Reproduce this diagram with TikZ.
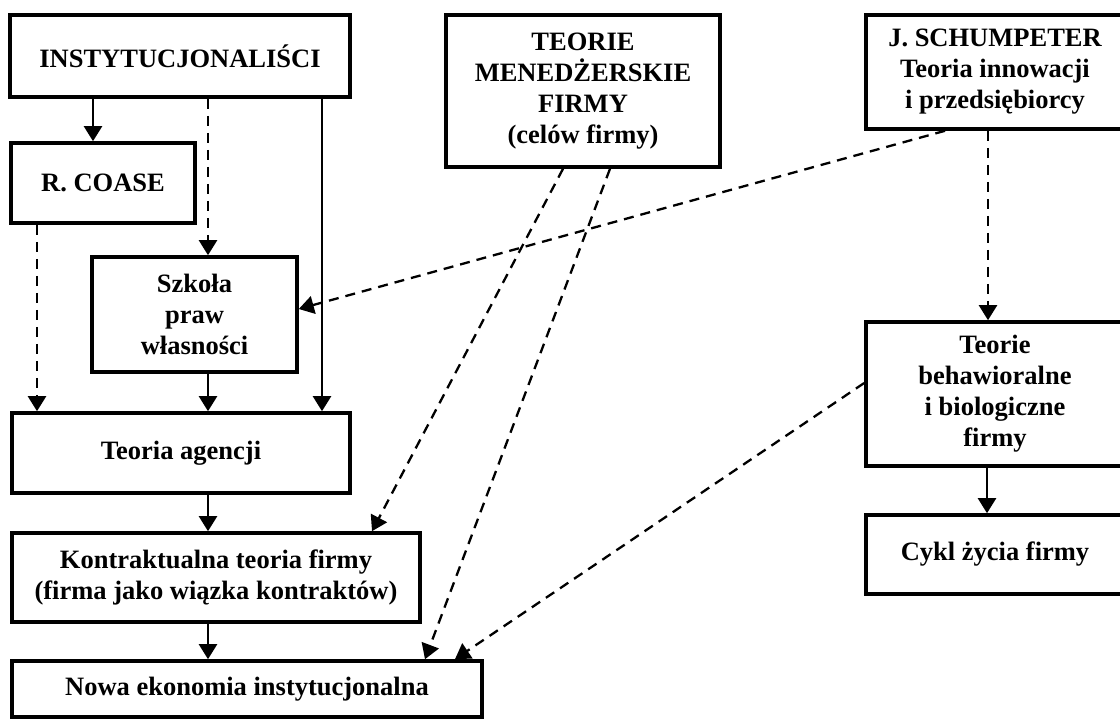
\documentclass[tikz,border=0pt]{standalone}
\usepackage{fontspec}
\setmainfont{Liberation Serif}
\usetikzlibrary{arrows.meta}
\begin{document}
\begin{tikzpicture}[x=1pt,y=-1pt,
  box/.style={draw, line width=3.6pt, align=center, inner sep=0pt,
    font=\fontsize{26.5pt}{31pt}\selectfont\bfseries},
  conn/.style={line width=2.3pt, -{Triangle[length=15pt,width=18pt]}},
  dconn/.style={conn, dash pattern=on 10pt off 7pt}]
\useasboundingbox (0,0) rectangle (1120,720);

% left column: institutional economics
\node[box, minimum width=340pt, minimum height=82pt] (inst) at (180,56) {INSTYTUCJONALIŚCI};
\node[box, minimum width=184pt, minimum height=80pt] (coase) at (103,183) {R. COASE};
\node[box, minimum width=205pt, minimum height=115pt] (szkola) at (194.5,314.5) {Szkoła\\praw\\własności};
\node[box, minimum width=338pt, minimum height=80pt] (agencja) at (181,453) {Teoria agencji};
\node[box, minimum width=408pt, minimum height=89pt] (kontr) at (216,577.5) {Kontraktualna teoria firmy\\(firma jako wiązka kontraktów)};
\node[box, minimum width=470pt, minimum height=56pt] (nowa) at (247,689) {Nowa ekonomia instytucjonalna};

% middle and right columns
\node[box, minimum width=274pt, minimum height=152pt] (teorie) at (583,91) {TEORIE\\MENEDŻERSKIE\\FIRMY\\(celów firmy)};
\node[box, minimum width=258pt, minimum height=114pt] (schump) at (995,72) {J. SCHUMPETER\\Teoria innowacji\\i przedsiębiorcy};
\node[box, minimum width=258pt, minimum height=144pt] (behaw) at (995,394) {Teorie\\behawioralne\\i biologiczne\\firmy};
\node[box, minimum width=258pt, minimum height=79pt] (cykl) at (995,554.5) {Cykl życia firmy};

% solid links
\draw[conn] (inst.south -| 93,0) -- (coase.north -| 93,0);
\draw[conn] (inst.south -| 322,0) -- (agencja.north -| 322,0);
\draw[conn] (szkola.south -| 208,0) -- (agencja.north -| 208,0);
\draw[conn] (agencja.south -| 208,0) -- (kontr.north -| 208,0);
\draw[conn] (kontr.south -| 208,0) -- (nowa.north -| 208,0);
\draw[conn] (behaw.south -| 987,0) -- (cykl.north -| 987,0);

% dashed links
\draw[dconn] (inst.south -| 208,0) -- (szkola.north -| 208,0);
\draw[dconn] (coase.south -| 37,0) -- (agencja.north -| 37,0);
\draw[dconn] ([xshift=-20pt]teorie.south) -- ([xshift=156pt]kontr.north);
\draw[dconn] ([xshift=27pt]teorie.south) -- ([xshift=178pt]nowa.north);
\draw[dconn] ([xshift=-50pt]schump.south) -- ([yshift=5.5pt]szkola.east);
\draw[dconn] (schump.south -| 988,0) -- (behaw.north -| 988,0);
\draw[dconn] ([yshift=11pt]behaw.west) -- ([xshift=208pt]nowa.north);
\end{tikzpicture}
\end{document}
